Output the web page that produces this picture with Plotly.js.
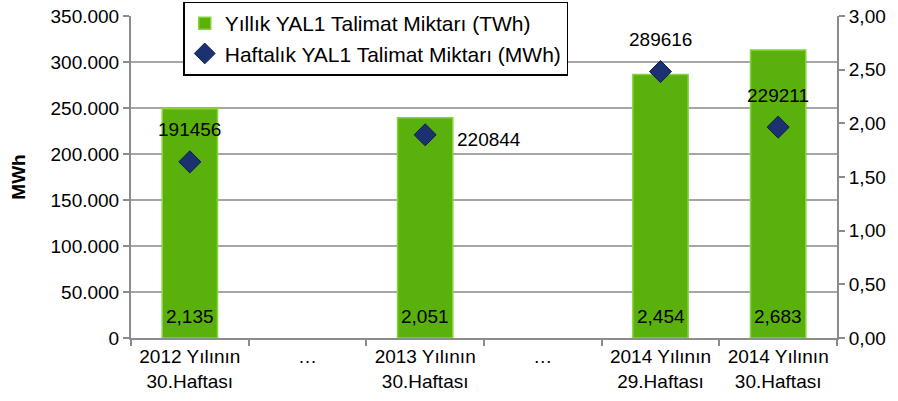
<!DOCTYPE html>
<html>
<head>
<meta charset="utf-8">
<script src="https://cdn.plot.ly/plotly-3.0.1.min.js"></script>
<style>html,body{margin:0;padding:0;background:#fff;}#chart{width:898px;height:401px;}</style>
</head>
<body>
<div id="chart"></div>
<script>
// ---- data ----
const categories = ["2012 Yılının<br>30.Haftası", "…", "2013 Yılının<br>30.Haftası", "…", "2014 Yılının<br>29.Haftası", "2014 Yılının<br>30.Haftası"];
const yearlyTWh = [2.135, null, 2.051, null, 2.454, 2.683];
const weeklyMWh = [191456, null, 220844, null, 289616, 229211];
const seriesNames = ["Yıllık YAL1 Talimat Miktarı (TWh)", "Haftalık YAL1 Talimat Miktarı (MWh)"];
const leftTicks = [0, 50000, 100000, 150000, 200000, 250000, 300000, 350000];
const rightTicks = [0, 0.5, 1, 1.5, 2, 2.5, 3];

// ---- build ----
const xIdx = categories.map((_, i) => i);
const FONT = "Liberation Sans, Arial, sans-serif";

const barTrace = {
  type: "bar",
  name: seriesNames[0],
  x: xIdx,
  y: yearlyTWh,
  yaxis: "y",
  width: 0.47,
  marker: { color: "#5bb10b", line: { color: "#86d43a", width: 1.5 } },
  hoverinfo: "skip"
};

const scatterTrace = {
  type: "scatter",
  mode: "markers",
  name: seriesNames[1],
  x: xIdx,
  y: weeklyMWh,
  yaxis: "y2",
  marker: { symbol: "diamond", size: 17, color: "#1c3270", line: { color: "#0f1f4f", width: 1 } },
  hoverinfo: "skip"
};

const annotations = [];
// bar value labels near the bar base
yearlyTWh.forEach((v, i) => {
  if (v === null) return;
  annotations.push({
    x: xIdx[i], y: 0, xref: "x", yref: "y",
    text: v.toFixed(3).replace(".", ","), showarrow: false,
    font: { family: FONT, size: 19, color: "#000" },
    xanchor: "center", yanchor: "middle", yshift: 22
  });
});
// weekly marker labels
const labelPlacement = ["top", null, "right", null, "top", "top"];
weeklyMWh.forEach((v, i) => {
  if (v === null) return;
  const right = labelPlacement[i] === "right";
  annotations.push({
    x: xIdx[i], y: v, xref: "x", yref: "y2",
    text: String(v), showarrow: false,
    font: { family: FONT, size: 19, color: "#000" },
    xanchor: right ? "left" : "center",
    yanchor: "middle",
    xshift: right ? 30 : 0,
    yshift: right ? -5 : 32
  });
});

const layout = {
  width: 898, height: 401,
  margin: { l: 131, r: 61, t: 16, b: 63, pad: 0, autoexpand: false },
  paper_bgcolor: "#fff", plot_bgcolor: "#fff",
  separators: ",.",
  font: { family: FONT, size: 19, color: "#000" },
  showlegend: true,
  legend: {
    x: 0.074, y: 1.045, xanchor: "left", yanchor: "top",
    bgcolor: "#fff", bordercolor: "#000", borderwidth: 1.5,
    font: { family: FONT, size: 21, color: "#000" },
    itemwidth: 30, tracegroupgap: 0, traceorder: "normal"
  },
  xaxis: {
    range: [-0.5, categories.length - 0.5],
    tickmode: "array", tickvals: xIdx, ticktext: categories,
    ticks: "", showgrid: false, zeroline: false,
    showline: true, linecolor: "#8c8c8c", linewidth: 2,
    tickfont: { family: FONT, size: 19, color: "#000" },
    minor: { tickmode: "array", tickvals: xIdx.concat([categories.length]).map(i => i - 0.5), ticks: "outside", ticklen: 6, tickcolor: "#8c8c8c", tickwidth: 2, showgrid: false }
  },
  yaxis: {
    side: "right",
    range: [0, 3], tickmode: "array", tickvals: rightTicks, tickformat: ".2f",
    ticks: "outside", ticklen: 6, tickcolor: "#8c8c8c", tickwidth: 2,
    showline: true, linecolor: "#8c8c8c", linewidth: 2,
    showgrid: false, zeroline: false,
    tickfont: { family: FONT, size: 19, color: "#000" }
  },
  yaxis2: {
    overlaying: "y", side: "left",
    range: [0, 350000], tickmode: "array", tickvals: leftTicks, tickformat: ",d",
    ticks: "outside", ticklen: 6, tickcolor: "#8c8c8c", tickwidth: 2,
    showline: true, linecolor: "#8c8c8c", linewidth: 2,
    showgrid: true, gridcolor: "#a6a6a6", gridwidth: 2, zeroline: false,
    tickfont: { family: FONT, size: 19, color: "#000" },
    title: { text: "<b>MWh</b>", font: { family: FONT, size: 19, color: "#000" }, standoff: 20 }
  },
  annotations: annotations
};

Plotly.newPlot("chart", [barTrace, scatterTrace], layout, { displayModeBar: false, staticPlot: true });
</script>
</body>
</html>
